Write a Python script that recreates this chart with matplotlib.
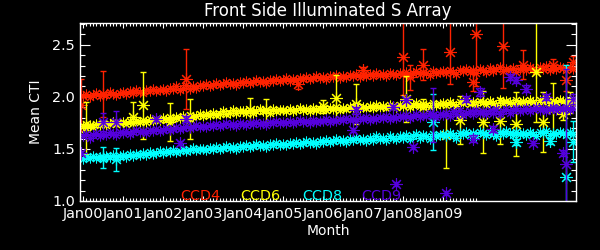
import numpy as np
import matplotlib
matplotlib.use('Agg')
import matplotlib.pyplot as plt
from matplotlib.ticker import MultipleLocator, FixedLocator


# monthly mean CTI, months counted from Jan 2000
ccd4 = [2.01, 2.03, 2.00, 2.02, 2.04, 2.01, 2.03, 2.02, 2.05, 2.03, 2.02, 2.04,
        2.05, 2.03, 2.06, 2.04, 2.07, 2.05, 2.04, 2.07, 2.06, 2.08, 2.06, 2.07,
        2.08, 2.06, 2.09, 2.08, 2.10, 2.07, 2.09, 2.11, 2.08, 2.10, 2.09, 2.11,
        2.10, 2.12, 2.10, 2.11, 2.13, 2.11, 2.12, 2.14, 2.12, 2.13, 2.11, 2.14,
        2.13, 2.15, 2.13, 2.14, 2.16, 2.14, 2.15, 2.13, 2.16, 2.15, 2.17, 2.15,
        2.16, 2.18, 2.15, 2.17, 2.16, 2.18, 2.17, 2.19, 2.17, 2.18, 2.20, 2.18,
        2.19, 2.17, 2.20, 2.19, 2.21, 2.18, 2.20, 2.19, 2.21, 2.20, 2.22, 2.19,
        2.21, 2.20, 2.22, 2.20, 2.23, 2.21, 2.22, 2.20, 2.23, 2.22, 2.21, 2.23,
        2.22, 2.24, 2.21, 2.23, 2.25, 2.22, 2.24, 2.23, 2.21, 2.25, 2.23, 2.24,
        2.25, 2.23, 2.26, 2.24, 2.22, 2.26, 2.25, 2.27, 2.24, 2.26, 2.23, 2.27,
        2.26, 2.24, 2.28, 2.25, 2.27, 2.29, 2.25, 2.27, 2.26, 2.28, 2.24, 2.27,
        2.28, 2.26, 2.29, 2.27, 2.25, 2.29, 2.27, 2.30, 2.26, 2.28, 2.27, 2.29,
        2.28, 2.26, 2.29, 2.27]

ccd6 = [1.72, 1.74, 1.73, 1.71, 1.74, 1.73, 1.75, 1.73, 1.74, 1.76, 1.74, 1.75,
        1.76, 1.74, 1.77, 1.75, 1.77, 1.76, 1.78, 1.76, 1.79, 1.77, 1.79, 1.78,
        1.80, 1.78, 1.81, 1.79, 1.81, 1.80, 1.82, 1.80, 1.83, 1.81, 1.82, 1.84,
        1.82, 1.84, 1.83, 1.85, 1.83, 1.84, 1.86, 1.84, 1.85, 1.87, 1.85, 1.86,
        1.86, 1.85, 1.87, 1.85, 1.86, 1.88, 1.86, 1.87, 1.85, 1.88, 1.86, 1.87,
        1.87, 1.86, 1.88, 1.86, 1.87, 1.89, 1.87, 1.88, 1.86, 1.89, 1.87, 1.88,
        1.88, 1.87, 1.89, 1.88, 1.90, 1.87, 1.89, 1.88, 1.90, 1.89, 1.91, 1.89,
        1.90, 1.89, 1.91, 1.89, 1.92, 1.90, 1.91, 1.89, 1.92, 1.91, 1.90, 1.92,
        1.91, 1.93, 1.90, 1.92, 1.94, 1.91, 1.93, 1.92, 1.90, 1.94, 1.92, 1.93,
        1.94, 1.92, 1.95, 1.93, 1.91, 1.95, 1.94, 1.96, 1.93, 1.95, 1.92, 1.96,
        1.95, 1.93, 1.96, 1.94, 1.92, 1.97, 1.94, 1.96, 1.95, 1.93, 1.97, 1.94,
        1.96, 1.94, 1.97, 1.95, 1.93, 1.97, 1.95, 1.98, 1.94, 1.96, 1.95, 1.97,
        1.96, 1.94, 1.97, 1.95]

ccd8 = [1.40, 1.42, 1.41, 1.43, 1.41, 1.42, 1.40, 1.43, 1.42, 1.44, 1.42, 1.43,
        1.44, 1.42, 1.45, 1.43, 1.45, 1.44, 1.46, 1.44, 1.47, 1.45, 1.46, 1.48,
        1.46, 1.48, 1.47, 1.49, 1.47, 1.48, 1.50, 1.48, 1.49, 1.51, 1.49, 1.50,
        1.50, 1.49, 1.51, 1.50, 1.52, 1.50, 1.51, 1.53, 1.51, 1.52, 1.50, 1.53,
        1.52, 1.54, 1.52, 1.53, 1.55, 1.53, 1.54, 1.52, 1.55, 1.54, 1.56, 1.54,
        1.55, 1.54, 1.56, 1.55, 1.57, 1.55, 1.56, 1.58, 1.56, 1.57, 1.55, 1.58,
        1.57, 1.59, 1.57, 1.58, 1.60, 1.58, 1.59, 1.57, 1.60, 1.59, 1.61, 1.59,
        1.60, 1.58, 1.61, 1.59, 1.62, 1.60, 1.61, 1.59, 1.62, 1.61, 1.60, 1.62,
        1.61, 1.63, 1.60, 1.62, 1.64, 1.61, 1.63, 1.62, 1.60, 1.64, 1.62, 1.63,
        1.64, 1.62, 1.65, 1.63, 1.61, 1.65, 1.64, 1.66, 1.63, 1.65, 1.62, 1.66,
        1.65, 1.63, 1.66, 1.64, 1.62, 1.66, 1.64, 1.67, 1.65, 1.63, 1.66, 1.64,
        1.65, 1.63, 1.66, 1.64, 1.62, 1.66, 1.65, 1.67, 1.63, 1.65, 1.64, 1.66,
        1.65, 1.63, 1.66, 1.64]

ccd9 = [1.62, 1.64, 1.61, 1.63, 1.65, 1.62, 1.64, 1.63, 1.66, 1.64, 1.63, 1.66,
        1.65, 1.67, 1.64, 1.66, 1.68, 1.66, 1.67, 1.65, 1.68, 1.67, 1.69, 1.67,
        1.68, 1.70, 1.68, 1.69, 1.71, 1.69, 1.70, 1.72, 1.70, 1.71, 1.73, 1.71,
        1.72, 1.71, 1.73, 1.72, 1.74, 1.72, 1.73, 1.75, 1.73, 1.74, 1.72, 1.75,
        1.74, 1.73, 1.75, 1.74, 1.76, 1.74, 1.75, 1.73, 1.76, 1.75, 1.77, 1.75,
        1.76, 1.75, 1.77, 1.75, 1.76, 1.78, 1.76, 1.77, 1.75, 1.78, 1.76, 1.77,
        1.77, 1.79, 1.76, 1.78, 1.77, 1.79, 1.78, 1.80, 1.78, 1.79, 1.77, 1.80,
        1.79, 1.81, 1.78, 1.80, 1.79, 1.81, 1.80, 1.82, 1.79, 1.81, 1.80, 1.82,
        1.81, 1.83, 1.80, 1.82, 1.84, 1.81, 1.83, 1.82, 1.85, 1.83, 1.81, 1.84,
        1.83, 1.85, 1.82, 1.86, 1.84, 1.87, 1.83, 1.85, 1.86, 1.84, 1.87, 1.85,
        1.86, 1.84, 1.87, 1.85, 1.88, 1.84, 1.86, 1.88, 1.85, 1.87, 1.89, 1.86,
        1.87, 1.89, 1.86, 1.88, 1.90, 1.87, 1.89, 1.86, 1.88, 1.90, 1.87, 1.89,
        1.88, 1.90, 1.87, 1.89]

# points with large error bars (month, value, error)
ccd4_m = [-0.6, 6, 31, 64.5, 84, 96, 98, 102, 110, 117, 118, 126, 132, 141, 145, 147]
ccd4_v = [1.92, 2.03, 2.17, 2.12, 2.26, 2.38, 2.19, 2.31, 2.43, 2.14, 2.60, 2.49, 2.31, 2.31, 2.16, 2.34]
ccd4_e = [0.25, 0.22, 0.29, 0.04, 0.03, 0.36, 0.12, 0.15, 0.31, 0.08, 0.50, 0.40, 0.14, 0.05, 0.10, 0.05]

ccd6_m = [1, 15, 18, 26, 32, 50, 55, 72, 76, 82, 97, 102, 109, 113, 120, 125, 130, 136, 138, 141, 144, 146]
ccd6_v = [1.70, 1.81, 1.92, 1.76, 1.79, 1.87, 1.87, 1.91, 1.99, 1.93, 1.98, 1.90, 1.63, 1.78, 1.76,
          1.77, 1.74, 2.24, 1.76, 1.88, 1.84, 1.95]
ccd6_e = [0.25, 0.14, 0.32, 0.18, 0.19, 0.12, 0.11, 0.06, 0.22, 0.19, 0.22, 0.08, 0.31, 0.23, 0.30,
          0.22, 0.31, 0.48, 0.29, 0.25, 0.06, 0.10]

ccd8_m = [6, 10, 105, 130, 140, 145, 147]
ccd8_v = [1.42, 1.40, 1.76, 1.57, 1.58, 1.23, 1.57]
ccd8_e = [0.10, 0.11, 0.27, 0.03, 0.03, 1.08, 0.20]

ccd9_m = [-0.5, 6, 10, 22, 29, 31, 81, 82, 93, 94, 97, 99, 105, 109, 115, 117, 119, 123,
          128, 130, 133, 135, 139, 144, 145, 147]
ccd9_v = [1.46, 1.76, 1.76, 1.79, 1.56, 1.79, 1.68, 1.87, 1.90, 1.16, 1.97, 1.52, 1.83, 1.08,
          1.98, 1.60, 2.05, 1.69, 2.19, 2.16, 2.08, 1.56, 2.00, 1.46, 1.36, 1.98]
ccd9_e = [0.02, 0.09, 0.10, 0.02, 0.02, 0.03, 0.02, 0.03, 0.02, 0.02, 0.02, 0.02, 0.26, 0.02,
          0.03, 0.03, 0.04, 0.03, 0.03, 0.03, 0.03, 0.02, 0.03, 0.03, 0.91, 0.05]

names = ['CCD4', 'CCD6', 'CCD8', 'CCD9']
colors = ['#ff2200', '#ffff00', '#00ffff', '#5500dd']
year_labels = ['Jan00', 'Jan01', 'Jan02', 'Jan03', 'Jan04', 'Jan05', 'Jan06', 'Jan07', 'Jan08', 'Jan09']

bands = [ccd4, ccd6, ccd8, ccd9]
outl = [(ccd4_m, ccd4_v, ccd4_e), (ccd6_m, ccd6_v, ccd6_e),
        (ccd8_m, ccd8_v, ccd8_e), (ccd9_m, ccd9_v, ccd9_e)]

star = (8, 2, 0)

fig = plt.figure(figsize=(6, 2.5), dpi=100, facecolor='black')
ax = fig.add_axes([80/600, 49/250, 496/600, 178/250])
ax.set_facecolor('black')

for band, (om, ov, oe), c in zip(bands, outl, colors):
    months = np.arange(len(band))
    ax.plot(months, band, linestyle='none', marker=star, markersize=7,
            markeredgewidth=0.75, color=c)
    ax.errorbar(om, ov, yerr=oe, fmt='none', ecolor=c, elinewidth=1.0,
                capsize=2.5, capthick=1.0)
    ax.plot(om, ov, linestyle='none', marker=star, markersize=9,
            markeredgewidth=0.8, color=c)

ax.set_xlim(-0.9, 147.9)
ax.set_ylim(1.0, 2.71)

ax.xaxis.set_major_locator(FixedLocator(np.arange(0, 12*len(year_labels), 12)))
ax.set_xticklabels(year_labels)
ax.xaxis.set_minor_locator(FixedLocator(np.arange(0, 119)))
ax.yaxis.set_major_locator(FixedLocator([1.0, 1.5, 2.0, 2.5]))
ax.yaxis.set_minor_locator(MultipleLocator(0.1))

for s in ax.spines.values():
    s.set_color('white')
    s.set_linewidth(1.0)

ax.tick_params(which='both', direction='in', colors='white', top=True, right=True,
               width=0.8)
ax.tick_params(axis='x', which='major', length=3.5, pad=4.5, labelsize=10.4)
ax.tick_params(axis='x', which='minor', length=2)
ax.tick_params(axis='y', which='major', length=7.2, pad=3.5, labelsize=10.4)
ax.tick_params(axis='y', which='minor', length=3.6)

ax.set_title('Front Side Illuminated S Array', color='white', fontsize=12, pad=5)
ax.set_xlabel('Month', color='white', fontsize=10)
ax.set_ylabel('Mean CTI', color='white', fontsize=10)
ax.xaxis.set_label_coords(0.5, -0.13)
ax.yaxis.set_label_coords(-0.075, 0.5)

# legend texts along the bottom of the plot
label_x = [0.2016, 0.3226, 0.448, 0.567]
for name, c, lx in zip(names, colors, label_x):
    ax.text(lx, 0.008, name, color=c, fontsize=10.4, transform=ax.transAxes,
            ha='left', va='baseline')

fig.savefig('out.png', dpi=100, facecolor='black')
